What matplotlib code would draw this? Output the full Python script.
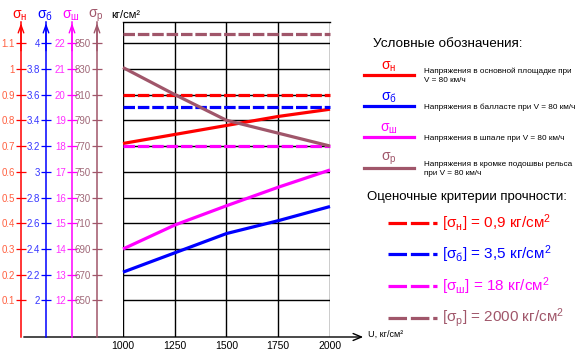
import matplotlib
matplotlib.use("Agg")
import matplotlib.pyplot as plt
from matplotlib.lines import Line2D

plt.rcParams['font.family'] = ['Liberation Sans', 'DejaVu Sans']
plt.rcParams['mathtext.default'] = 'regular'

# data
speeds = [1000, 1250, 1500, 1750, 2000]
sigma_h = [0.71, 0.745, 0.78, 0.815, 0.843]
sigma_b = [2.22, 2.37, 2.52, 2.62, 2.73]
sigma_sh = [14.0, 14.93, 15.68, 16.4, 17.07]
sigma_r = [831, 810, 790, 780, 770]

limit_h = 0.9
limit_b = 3.5
limit_sh = 18
limit_r = 857  # level where the [σр] line is drawn

ticks_h = [0.1, 0.2, 0.3, 0.4, 0.5, 0.6, 0.7, 0.8, 0.9, 1.0, 1.1]
ticks_b = [2, 2.2, 2.4, 2.6, 2.8, 3, 3.2, 3.4, 3.6, 3.8, 4]
ticks_sh = [12, 13, 14, 15, 16, 17, 18, 19, 20, 21, 22]
ticks_r = [650, 670, 690, 710, 730, 750, 770, 790, 810, 830, 850]

legend_desc = ["Напряжения в основной площадке при\nV = 80 км/ч",
               "Напряжения в балласте при V = 80 км/ч",
               "Напряжения в шпале при V = 80 км/ч",
               "Напряжения в кромке подошвы рельса\nпри V = 80 км/ч"]
legend_sub = ["н", "б", "ш", "р"]
criteria = ["0,9", "3,5", "18", "2000"]

RED = '#FF0000'
BLUE = '#0000FF'
MAG = '#FF00FF'
BROWN = '#A0566A'
colors = [RED, BLUE, MAG, BROWN]
label_colors = ['#FF6040', '#3535FF', '#FF30FF', '#A06878']

W, H = 584, 353
fig = plt.figure(figsize=(W / 100, H / 100), dpi=100)

x0, x1, ytop, ybot = 123, 330, 22, 337
ax = fig.add_axes([x0 / W, (H - ybot) / H, (x1 - x0) / W, (ybot - ytop) / H])

lo_h, hi_h = -0.042, 1.182
def conv(a, b):
    # map the red axis range onto another axis: value at 0.1 -> a, step per 0.1 -> b
    return (a + (lo_h - 0.1) * b * 10, a + (hi_h - 0.1) * b * 10)

tw_b = ax.twinx()
tw_sh = ax.twinx()
tw_r = ax.twinx()
axes_cfg = [
    (ax, (lo_h, hi_h), ticks_h, sigma_h, limit_h, 21),
    (tw_b, conv(2, 0.2), ticks_b, sigma_b, limit_b, 46),
    (tw_sh, conv(12, 1), ticks_sh, sigma_sh, limit_sh, 72),
    (tw_r, conv(650, 20), ticks_r, sigma_r, limit_r, 97),
]

dash = (3.6, 0.9)
for i, (a, lim, ticks, ser, limit, px) in enumerate(axes_cfg):
    c = colors[i]
    a.set_ylim(*lim)
    a.set_xlim(1000, 2000)
    for s in a.spines.values():
        s.set_visible(False)
    a.spines['left'].set_visible(True)
    a.spines['left'].set_position(('axes', (px - x0) / (x1 - x0)))
    a.spines['left'].set_color(c)
    a.spines['left'].set_linewidth(1.1)
    a.yaxis.set_ticks_position('left')
    a.yaxis.set_label_position('left')
    a.set_yticks(ticks)
    a.set_yticklabels(['%g' % t for t in ticks])
    a.tick_params(axis='y', direction='inout', length=7, width=0.9, color=c,
                  labelcolor=label_colors[i], labelsize=7, pad=1)
    a.plot(speeds, ser, color=c, lw=2.3, solid_capstyle='butt', clip_on=False, zorder=3)
    a.plot([1000, 2000], [limit, limit], color=c, lw=2.3, dashes=dash, clip_on=False, zorder=3)
    # arrow at the top of each axis
    a.annotate('', xy=((px - x0) / (x1 - x0), 1.005), xytext=((px - x0) / (x1 - x0), 0.9),
               xycoords='axes fraction',
               arrowprops=dict(arrowstyle='->,head_length=0.55,head_width=0.2', color=c, lw=1.0))

ax.spines['top'].set_visible(True)
ax.spines['top'].set_color('black')
ax.spines['top'].set_linewidth(1.0)
ax.set_xticks(speeds)
ax.tick_params(axis='x', length=0, labelsize=7.5, pad=3)
ax.grid(True, color='black', lw=1.0)
ax.set_axisbelow(True)

# x axis with arrow
ax.annotate('', xy=((366 - x0) / (x1 - x0), 0), xytext=((21 - x0) / (x1 - x0), 0),
            xycoords='axes fraction',
            arrowprops=dict(arrowstyle='->,head_length=0.6,head_width=0.25', color='black', lw=1.0))

# overlay in pixel coordinates for labels and legend
ov = fig.add_axes([0, 0, 1, 1], zorder=10)
ov.set_xlim(0, W)
ov.set_ylim(H, 0)
ov.axis('off')

for i, px in enumerate([21, 46, 72, 97]):
    ov.text(px - 1, 16, 'σ$_{%s}$' % legend_sub[i], color=colors[i], fontsize=10,
            ha='center', va='center')
ov.text(111, 15, 'кг/см²', fontsize=8, ha='left', va='center')
ov.text(368, 334, 'U, кг/см²', fontsize=6.5, ha='left', va='center')

ov.text(373, 44, 'Условные обозначения:', fontsize=9.7, ha='left', va='center')
ys = [75, 106, 137, 168]
for i in range(4):
    y = ys[i]
    ov.add_line(Line2D([364, 414], [y, y], color=colors[i], lw=2.3))
    ov.text(389, y - 1, 'σ$_{%s}$' % legend_sub[i], color=colors[i], fontsize=10,
            ha='center', va='bottom')
    ov.text(424, y + 1, legend_desc[i], fontsize=5.9, ha='left', va='center', linespacing=1.3)

ov.text(367, 197, 'Оценочные критерии прочности:', fontsize=9.55, ha='left', va='center')
ys2 = [223, 254, 286, 318]
for i in range(4):
    y = ys2[i]
    ov.add_line(Line2D([388, 437], [y, y], color=colors[i], lw=2.3, dashes=(5.8, 1.2)))
    ov.text(442, y, '[σ$_{%s}$] = %s кг/см$^{2}$' % (legend_sub[i], criteria[i]),
            color=colors[i], fontsize=11, ha='left', va='center')

fig.savefig('out.png', dpi=100)
